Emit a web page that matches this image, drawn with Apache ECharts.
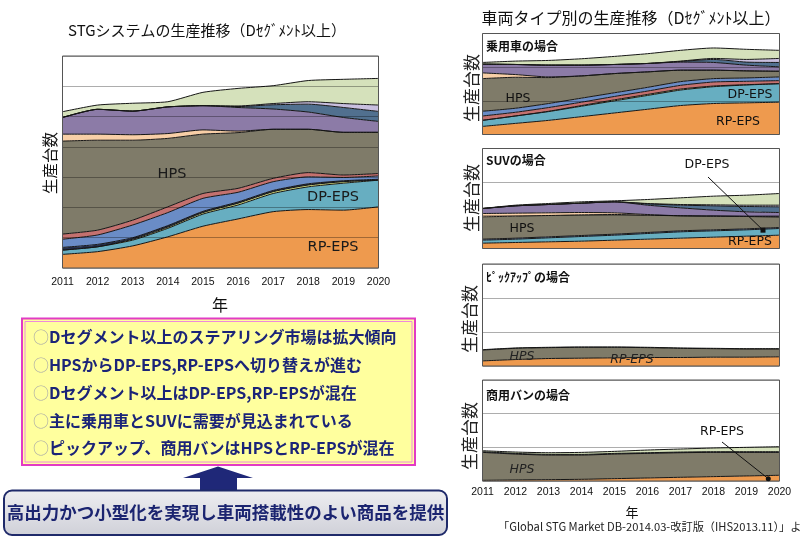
<!DOCTYPE html>
<html><head><meta charset="utf-8">
<script src="https://cdn.jsdelivr.net/npm/echarts/dist/echarts.min.js"></script>
<style>html,body{margin:0;padding:0;background:#fff}#c{width:800px;height:543px}</style>
</head><body><div id="c"></div><script>
const years = ['2011','2012','2013','2014','2015','2016','2017','2018','2019','2020'];

// ---- Main chart (STG system, D segment and above), stacked layer thickness ----
const main_RP   = [0.45,0.54,0.73,1.03,1.38,1.62,1.86,1.93,1.91,2.02];
const main_DP   = [0.14,0.16,0.19,0.28,0.40,0.46,0.60,0.75,0.89,0.88];
const main_Y    = [0,0,0.03,0.04,0.05,0.06,0.06,0.06,0.05,0];
const main_D    = [0.09,0.08,0.05,0.05,0.04,0.04,0.04,0.04,0.03,0.03];
const main_B    = [0.27,0.31,0.42,0.43,0.43,0.32,0.29,0.23,0.11,0.11];
const main_P    = [0.17,0.16,0.16,0.19,0.16,0.13,0.11,0.14,0.08,0.08];
const main_HPS  = [3.07,2.97,2.64,2.26,1.96,1.84,1.62,1.43,1.41,1.36];
const main_Pe   = [0.23,0.20,0.18,0.16,0.14,0.05,0,0,0,0];
const main_Pu   = [0.55,0.82,0.78,0.88,0.80,0.78,0.67,0.57,0.49,0.36];
const main_DB   = [0,0,0,0,0,0.03,0.14,0.26,0.33,0.33];
const main_L    = [0,0,0,0,0,0.02,0.04,0.08,0.13,0.21];
const main_G    = [0.19,0.14,0.26,0.17,0.44,0.58,0.59,0.70,0.80,0.88];

// ---- Passenger car ----
const car_RP  = [0.24,0.33,0.42,0.53,0.64,0.75,0.86,0.92,0.94,0.96];
const car_DP  = [0.18,0.22,0.26,0.31,0.36,0.41,0.46,0.50,0.53,0.55];
const car_Y   = [0,0,0.01,0.02,0.03,0.03,0.03,0.02,0.01,0];
const car_P   = [0.13,0.11,0.11,0.10,0.10,0.10,0.11,0.12,0.10,0.09];
const car_B   = [0.14,0.12,0.12,0.12,0.11,0.11,0.11,0.10,0.10,0.11];
const car_HPS = [0.97,0.92,0.77,0.66,0.57,0.46,0.34,0.25,0.21,0.17];
const car_Pe  = [0.17,0.08,0.02,0,0,0,0,0,0,0];
const car_Pu  = [0.26,0.30,0.35,0.32,0.27,0.25,0.24,0.23,0.17,0.13];
const car_DB  = [0,0,0,0,0,0,0.02,0.09,0.09,0.13];
const car_L   = [0,0,0,0,0,0,0.01,0.03,0.08,0.12];
const car_G   = [0.05,0.10,0.14,0.19,0.24,0.29,0.32,0.31,0.30,0.24];

// ---- SUV ----
const suv_RP  = [0.16,0.18,0.20,0.22,0.25,0.28,0.31,0.34,0.37,0.40];
const suv_DP  = [0.09,0.10,0.12,0.14,0.15,0.17,0.19,0.19,0.19,0.20];
const suv_B   = [0.03,0.03,0.03,0.03,0.03,0.03,0.03,0.03,0.03,0.03];
const suv_HPS = [0.67,0.66,0.64,0.62,0.59,0.52,0.45,0.41,0.37,0.32];
const suv_Pe  = [0.10,0.09,0.08,0.07,0.05,0.02,0,0,0,0];
const suv_Pu  = [0.15,0.22,0.25,0.28,0.33,0.28,0.24,0.18,0.14,0.13];
const suv_DB  = [0,0,0,0,0,0.04,0.08,0.13,0.16,0.17];
const suv_L   = [0,0,0,0,0,0.01,0.02,0.03,0.04,0.05];
const suv_G   = [0,0.02,0.03,0.04,0.03,0.12,0.20,0.26,0.30,0.35];

// ---- Pickup ----
const pick_RP  = [0.15,0.19,0.22,0.23,0.24,0.25,0.25,0.26,0.26,0.27];
const pick_HPS = [0.32,0.33,0.32,0.32,0.31,0.29,0.27,0.25,0.24,0.23];
const pick_G   = [0.01,0.01,0.01,0.01,0.01,0.01,0.01,0.01,0.01,0.01];

// ---- Commercial van ----
const van_RP  = [0.02,0.03,0.04,0.05,0.07,0.09,0.11,0.13,0.15,0.17];
const van_HPS = [0.83,0.77,0.73,0.72,0.73,0.73,0.73,0.72,0.70,0.68];
const van_D   = [0.02,0.02,0.02,0.02,0.02,0.02,0.02,0.02,0.02,0.02];
const van_G   = [0.03,0.04,0.05,0.06,0.06,0.08,0.09,0.11,0.13,0.15];

// annotation anchors (fraction between 2019 and 2020, value)
const suvDPAnchor = [0.5, 0.55];
const vanRPAnchor = [0.66, 0.07];

const COL = {RP:'#EE9A4E', DP:'#67AEC1', Y:'#D9E180', D:'#26304E', B:'#6A8CC6', P:'#C4716F',
  HPS:'#7F7B69', Pe:'#F8CFA7', Pu:'#8C7BA7', DB:'#51708F', L:'#C9BFDF', G:'#D5E1BB'};
const FONT = "'Noto Sans CJK JP', sans-serif";
const LAT = "'DejaVu Sans', sans-serif";

const charts = [
  {max:7, grid:{left:62.5, top:56, width:316, height:212}, labels:true, margin:9,
   layers:[['RP',main_RP],['DP',main_DP],['Y',main_Y],['D',main_D],['B',main_B],['P',main_P],['HPS',main_HPS],['Pe',main_Pe],['Pu',main_Pu],['DB',main_DB],['L',main_L],['G',main_G]]},
  {max:3, grid:{left:482.5, top:33.5, width:297, height:101}, labels:false,
   layers:[['RP',car_RP],['DP',car_DP],['Y',car_Y],['P',car_P],['B',car_B],['HPS',car_HPS],['Pe',car_Pe],['Pu',car_Pu],['DB',car_DB],['L',car_L],['G',car_G]]},
  {max:3, grid:{left:482.5, top:148.5, width:297, height:100}, labels:false,
   layers:[['RP',suv_RP],['DP',suv_DP],['B',suv_B],['HPS',suv_HPS],['Pe',suv_Pe],['Pu',suv_Pu],['DB',suv_DB],['L',suv_L],['G',suv_G]]},
  {max:3, grid:{left:482.5, top:264, width:297, height:102}, labels:false,
   layers:[['RP',pick_RP],['HPS',pick_HPS],['G',pick_G]]},
  {max:3, grid:{left:482.5, top:380, width:297, height:101}, labels:true, margin:6,
   layers:[['RP',van_RP],['HPS',van_HPS],['D',van_D],['G',van_G]]}
];

const grid=[], xAxis=[], yAxis=[], series=[];
charts.forEach((c,i)=>{
  grid.push(Object.assign({show:true, borderColor:'#555', borderWidth:1, backgroundColor:'transparent', z:10}, c.grid));
  xAxis.push({gridIndex:i, type:'category', boundaryGap:false, data:years,
    axisLine:{show:false}, axisTick:{show:false}, splitLine:{show:false},
    axisLabel:{show:c.labels, interval:0, fontSize:10.5, color:'#111', margin:c.margin||8, fontFamily:"'Liberation Sans', sans-serif"}});
  yAxis.push({gridIndex:i, type:'value', min:0, max:c.max, interval:1, z:5,
    axisLabel:{show:false}, axisLine:{show:false}, axisTick:{show:false},
    splitLine:{show:true, lineStyle:{color:'rgba(0,0,0,0.32)', width:1}}});
  c.layers.forEach(([k,d])=>{
    series.push({type:'line', name:k, xAxisIndex:i, yAxisIndex:i, stack:'s'+i, data:d,
      symbol:'none', smooth:0.2, silent:true, animation:false,
      lineStyle:{color:'#161616', width:1}, areaStyle:{color:COL[k], opacity:1}});
  });
});

const chart = echarts.init(document.getElementById('c'), null, {renderer:'canvas'});
chart.setOption({animation:false, textStyle:{fontFamily:FONT}, grid, xAxis, yAxis, series});

function interp(gi, a){
  const p0 = chart.convertToPixel({gridIndex:gi}, ['2019', a[1]]);
  const p1 = chart.convertToPixel({gridIndex:gi}, ['2020', a[1]]);
  return [p0[0] + (p1[0]-p0[0])*a[0], p0[1]];
}
const suvP = interp(2, suvDPAnchor);
const vanP = interp(4, vanRPAnchor);

function T(x,y,text,size,opts){
  opts = opts||{};
  return {type:'text', x, y, rotation:opts.rot||0, z:100, silent:true,
    style:{text, fontSize:size, fontFamily:opts.ff||FONT, fontWeight:opts.fw||'normal', fontStyle:opts.fs||'normal',
      fill:opts.fill||'#111', align:opts.align||'center', verticalAlign:'middle', rich:opts.rich}};
}

const g = [];
// titles
g.push(T(207,30,'STGシステムの生産推移（Dｾｸﾞﾒﾝﾄ以上）',15));
g.push(T(631,18,'車両タイプ別の生産推移（Dｾｸﾞﾒﾝﾄ以上）',16));
// y names
g.push(T(50,163,'生産台数',15.5,{rot:Math.PI/2}));
[[471.5,88],[471.5,198],[470,319],[470,436]].forEach(p=>g.push(T(p[0],p[1],'生産台数',17,{rot:Math.PI/2, fill:'#222'})));
// x names
g.push(T(220,305,'年',16));
g.push(T(632,512,'年',13));
// main labels
g.push(T(172,174,'HPS',14.5,{ff:LAT, fill:'#1a1a1a'}));
g.push(T(333,197,'DP-EPS',14.5,{ff:LAT, fill:'#1a1a1a'}));
g.push(T(333,247,'RP-EPS',14.5,{ff:LAT, fill:'#1a1a1a'}));
// type labels
g.push(T(486,46,'乗用車の場合',12,{align:'left', fw:'bold'}));
g.push(T(486,160,'SUVの場合',12,{align:'left', fw:'bold'}));
g.push(T(486,277,'ﾋﾟｯｸｱｯﾌﾟの場合',12,{align:'left', fw:'bold'}));
g.push(T(486,395,'商用バンの場合',12,{align:'left', fw:'bold'}));
// small chart labels
g.push(T(518,99,'HPS',12.5,{ff:LAT}));
g.push(T(750,95,'DP-EPS',12.5,{ff:LAT}));
g.push(T(738,122,'RP-EPS',12.5,{ff:LAT}));
g.push(T(522,229,'HPS',12.5,{ff:LAT}));
g.push(T(750,242,'RP-EPS',12.5,{ff:LAT}));
g.push(T(707,165,'DP-EPS',12.5,{ff:LAT}));
g.push(T(522,357,'HPS',12.5,{ff:LAT, fs:'italic', fill:'#222'}));
g.push(T(632,360,'RP-EPS',12.5,{ff:LAT, fs:'italic', fill:'#222'}));
g.push(T(522,470,'HPS',12.5,{ff:LAT, fs:'italic', fill:'#222'}));
g.push(T(722,432,'RP-EPS',12.5,{ff:LAT}));
// annotation leaders
g.push({type:'line', z:100, silent:true, shape:{x1:708, y1:177, x2:suvP[0], y2:suvP[1]}, style:{stroke:'#111', lineWidth:1}});
g.push({type:'rect', z:101, silent:true, shape:{x:suvP[0]-2.5, y:suvP[1]-2.5, width:5, height:5}, style:{fill:'#111'}});
g.push({type:'line', z:100, silent:true, shape:{x1:722, y1:442, x2:vanP[0], y2:vanP[1]}, style:{stroke:'#111', lineWidth:1}});
g.push({type:'circle', z:101, silent:true, shape:{cx:vanP[0], cy:vanP[1], r:2.5}, style:{fill:'#111'}});
// footer
g.push(T(498,527,'「Global STG Market DB-2014.03-改訂版（IHS2013.11）」より',11.2,{align:'left', fill:'#222'}));
// text box
g.push({type:'rect', z:50, silent:true, shape:{x:22, y:318.5, width:393, height:146.5}, style:{fill:'#FFFF9E', stroke:'#E23BC4', lineWidth:2}});
g.push({type:'rect', z:51, silent:true, shape:{x:25, y:321.5, width:387, height:140.5}, style:{fill:'none', stroke:'#EE8ADB', lineWidth:1}});
const lines = ['Dセグメント以上のステアリング市場は拡大傾向','HPSからDP-EPS,RP-EPSへ切り替えが進む','Dセグメント以上はDP-EPS,RP-EPSが混在','主に乗用車とSUVに需要が見込まれている','ピックアップ、商用バンはHPSとRP-EPSが混在'];
const ly = [336.7,365,392.7,420.7,448.3];
lines.forEach((t,i)=>g.push(T(33,ly[i],'{c|○}{t|'+t+'}',16,{align:'left', rich:{
  c:{fontSize:16, fontFamily:FONT, fill:'#A8A8A8'},
  t:{fontSize:16, fontFamily:FONT, fontWeight:'bold', fill:'#1B2478'}}})));
// arrow
g.push({type:'polygon', z:50, silent:true, shape:{points:[[218,466.5],[253,478],[237,478],[237,491],[200,491],[200,478],[183,478]]}, style:{fill:'#1F2878'}});
// banner
g.push({type:'rect', z:50, silent:true, shape:{x:4, y:490.5, width:443, height:44.5, r:8},
  style:{fill:new echarts.graphic.LinearGradient(0,0,0,1,[{offset:0,color:'#EEEEF1'},{offset:1,color:'#CFD0D8'}]), stroke:'#1F2A6A', lineWidth:2}});
g.push(T(225.5,512.5,'高出力かつ小型化を実現し車両搭載性のよい商品を提供',17.5,{fill:'#1B2470', fw:'bold'}));

chart.setOption({graphic:g});
</script></body></html>
